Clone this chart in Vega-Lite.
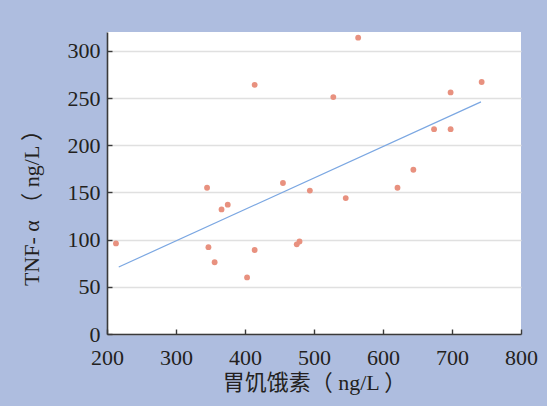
{
  "$schema": "https://vega.github.io/schema/vega-lite/v6.json",
  "autosize": "none",
  "width": 414,
  "height": 302,
  "padding": {"left": 107, "top": 32, "right": 26, "bottom": 72},
  "background": "#AEBDDF",
  "config": {
    "view": {"fill": "white", "stroke": null},
    "font": "Liberation Serif",
    "axis": {
      "labelFont": "Liberation Serif",
      "labelFontSize": 22,
      "labelColor": "#231F20",
      "labelFlush": false,
      "titleFont": "Liberation Serif, Noto Sans CJK SC",
      "titleFontSize": 22,
      "titleFontWeight": "normal",
      "titleColor": "#231F20",
      "domainColor": "#3a3a3a",
      "domainWidth": 1.6,
      "tickColor": "#3a3a3a",
      "tickWidth": 1.4,
      "tickSize": -5,
      "labelPadding": 12
    }
  },
  "datasets": {
    "pts": [
      {"ghrelin": 213, "tnf": 96},
      {"ghrelin": 345, "tnf": 155},
      {"ghrelin": 347, "tnf": 92},
      {"ghrelin": 356, "tnf": 76},
      {"ghrelin": 366, "tnf": 132},
      {"ghrelin": 375, "tnf": 137},
      {"ghrelin": 403, "tnf": 60},
      {"ghrelin": 414, "tnf": 264},
      {"ghrelin": 414, "tnf": 89},
      {"ghrelin": 455, "tnf": 160},
      {"ghrelin": 475, "tnf": 95},
      {"ghrelin": 479, "tnf": 98},
      {"ghrelin": 494, "tnf": 152},
      {"ghrelin": 528, "tnf": 251},
      {"ghrelin": 546, "tnf": 144},
      {"ghrelin": 564, "tnf": 314},
      {"ghrelin": 621, "tnf": 155},
      {"ghrelin": 644, "tnf": 174},
      {"ghrelin": 674, "tnf": 217},
      {"ghrelin": 698, "tnf": 256},
      {"ghrelin": 698, "tnf": 217},
      {"ghrelin": 743, "tnf": 267}
    ],
    "fit": [
      {"ghrelin": 217, "tnf": 71},
      {"ghrelin": 742, "tnf": 246}
    ]
  },
  "layer": [
    {
      "data": {"name": "fit"},
      "mark": {"type": "line", "color": "#7BA7E2", "strokeWidth": 1.2},
      "encoding": {
        "x": {
          "field": "ghrelin", "type": "quantitative",
          "scale": {"domain": [200, 800], "nice": false, "zero": false},
          "axis": {
            "values": [200, 300, 400, 500, 600, 700, 800],
            "grid": false,
            "labelPadding": 18,
            "title": "胃饥饿素（ ng/L ）",
            "titlePadding": 4
          }
        },
        "y": {
          "field": "tnf", "type": "quantitative",
          "scale": {"domain": [0, 320], "nice": false},
          "axis": {
            "values": [0, 50, 100, 150, 200, 250, 300],
            "grid": true,
            "gridColor": "#E0E0E0",
            "gridWidth": 1.6,
            "title": "TNF- α （ ng/L ）",
            "titlePadding": 24,
            "titleY": 170
          }
        }
      }
    },
    {
      "data": {"name": "pts"},
      "mark": {"type": "circle", "color": "#E8917F", "size": 34, "opacity": 1},
      "encoding": {
        "x": {"field": "ghrelin", "type": "quantitative"},
        "y": {"field": "tnf", "type": "quantitative"}
      }
    }
  ]
}
